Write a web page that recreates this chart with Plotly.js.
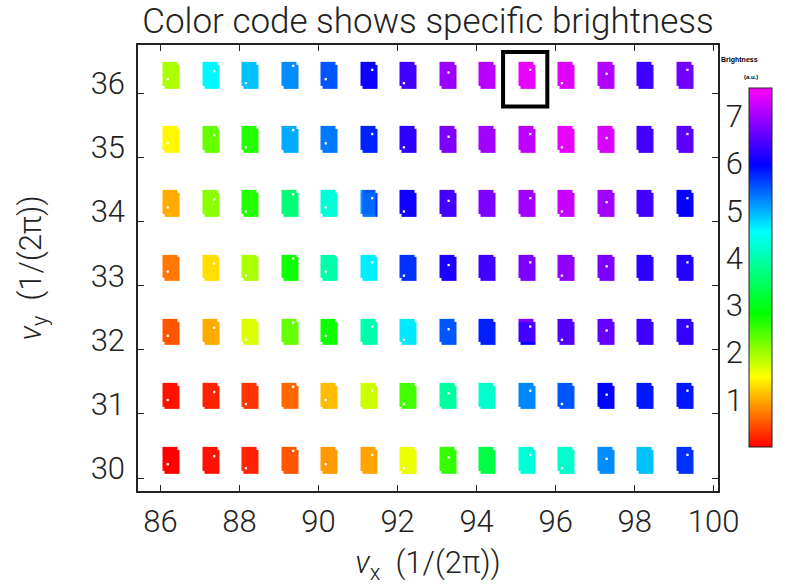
<!DOCTYPE html>
<html>
<head>
<meta charset="utf-8">
<script src="https://cdn.plot.ly/plotly-3.0.1.min.js"></script>
<style>html,body{margin:0;padding:0;background:#fff;}#chart{width:793px;height:585px;}</style>
</head>
<body>
<div id="chart"></div>
<script>
// ---- data ----
const xTunes = [86.27, 87.27, 88.27, 89.27, 90.27, 91.27, 92.27, 93.27, 94.27, 95.27, 96.27, 97.27, 98.27, 99.27];
const yTunes = [30.28, 31.28, 32.28, 33.28, 34.28, 35.28, 36.28];
// brightness per patch, rows from nu_y = 30 (bottom) to 36 (top)
const b30 = [0.0, 0.1, 0.2, 0.5, 0.9, 0.95, 1.58, 2.55, 3.28, 4.3, 4.2, 5.2, 4.9, 5.7];
const b31 = [0.1, 0.2, 0.3, 0.6, 1.1, 1.76, 2.47, 3.9, 4.2, 5.22, 5.5, 5.95, 5.85, 5.85];
const b32 = [0.5, 1.0, 1.67, 2.3, 2.75, 4.0, 4.68, 5.5, 5.8, 6.5, 6.5, 6.6, 6.35, 6.3];
const b33 = [0.7, 1.3, 1.93, 2.75, 3.98, 4.65, 5.7, 6.15, 6.4, 6.77, 6.9, 6.77, 6.25, 6.2];
const b34 = [1.0, 2.1, 2.65, 3.63, 4.3, 5.5, 6.05, 6.4, 6.77, 7.0, 7.25, 7.0, 6.4, 6.0];
const b35 = [1.45, 2.29, 2.65, 5.03, 5.3, 5.78, 6.25, 6.77, 7.0, 7.2, 7.45, 7.35, 6.4, 6.55];
const b36 = [1.93, 4.6, 4.9, 5.2, 5.5, 6.05, 6.4, 6.95, 7.15, 7.45, 7.4, 7.1, 6.35, 6.7];
const brightnessRows = [b30, b31, b32, b33, b34, b35, b36];
// patches with visible internal variation: sub-cell values (bottom row first, left to right)
const patchDetail = [
  {row: 2, col: 9, cells: [[null, 6.0, 6.1], [6.3, 6.4, 6.5], [6.8, 6.8, null]]},
  {row: 4, col: 5, cells: [[null, 5.3, 5.7], [5.1, 5.4, 5.7], [5.0, 5.5, null]]}
];
// white pixel markers inside each patch (fraction of patch width from left / height from top), per column
const dotFracX = [0.3, 0.7, 0.25, 0.7, 0.3, 0.7, 0.25, 0.55, null, 0.7, 0.25, 0.55, null, 0.65];
const dotFracY = [0.65, 0.35, 0.8, 0.15, 0.65, 0.3, 0.8, 0.4, null, 0.3, 0.8, 0.45, null, 0.3];
const xTickVals = [86, 88, 90, 92, 94, 96, 98, 100];
const yTickVals = [30, 31, 32, 33, 34, 35, 36];
const cbTickVals = [1, 2, 3, 4, 5, 6, 7];
const highlight = {col: 9, row: 6};

// ---- geometry of a patch (data units) ----
const PW = 0.44, PH = 0.415, NX = 0.06, NY = 0.045;

// build brick edges: each patch split in 3x3 sub-cells (corner notches), gaps in between
const xEdges = [];
xTunes.forEach(c => { xEdges.push(c - PW/2, c - PW/2 + NX, c + PW/2 - NX, c + PW/2); });
const yEdges = [];
yTunes.forEach(c => { yEdges.push(c - PH/2, c - PH/2 + NY, c + PH/2 - NY, c + PH/2); });
const nxc = xEdges.length - 1, nyc = yEdges.length - 1;
const z = [];
for (let r = 0; r < nyc; r++) {
  const row = [];
  const pr = Math.floor(r / 4), sr = r % 4;
  for (let c = 0; c < nxc; c++) {
    const pc = Math.floor(c / 4), sc = c % 4;
    let v = null;
    if (sr < 3 && sc < 3) {
      v = brightnessRows[pr][pc];
      const d = patchDetail.find(p => p.row === pr && p.col === pc);
      if (d) v = d.cells[sr][sc];
      if (sr === 0 && sc === 0) v = null;   // bottom-left notch
      if (sr === 2 && sc === 2) v = null;   // top-right notch
    }
    row.push(v);
  }
  z.push(row);
}

const dotX = [], dotY = [];
yTunes.forEach(cy => {
  xTunes.forEach((cx, i) => {
    if (dotFracX[i] !== null) {
      dotX.push(cx - PW/2 + dotFracX[i] * PW);
      dotY.push(cy + PH/2 - dotFracY[i] * PH);
    }
  });
});

const ZMAX = 7.6;
const colorscale = [
  [0, '#ff0000'], [1.49/ZMAX, '#ffff00'], [2.82/ZMAX, '#00ff00'],
  [4.56/ZMAX, '#00ffff'], [5.97/ZMAX, '#0000ff'], [1, '#ff00ff']
];

const FONT = 'Roboto, "Liberation Sans", sans-serif';
const INK = '#222';

// pixel layout helpers
const ML = 138, MR = 15, PAPER_W = 793 - ML - MR;   // paper area width
const PLOT_R = 718, PLOT_T = 45, PLOT_B = 491;
const CB_L = 749, CB_T = 88, CB_B = 447;
const px2x = p => (p - ML) / PAPER_W;
const px2y = p => (PLOT_B - p) / (PLOT_B - PLOT_T);

const traces = [
  {
    type: 'heatmap', x: xEdges, y: yEdges, z: z,
    zmin: 0, zmax: ZMAX, colorscale: colorscale, hoverongaps: false,
    colorbar: {
      x: px2x(CB_L), xanchor: 'left', xpad: 0,
      y: px2y((CB_T + CB_B) / 2), yanchor: 'middle', ypad: 0,
      len: CB_B - CB_T, lenmode: 'pixels', thickness: 23,
      outlinewidth: 1, outlinecolor: INK,
      ticks: '', showticklabels: false
    }
  },
  {
    type: 'scatter', mode: 'markers', x: dotX, y: dotY,
    marker: {symbol: 'square', size: 2.3, color: '#ffffff', line: {width: 0}},
    hoverinfo: 'skip', showlegend: false
  },
  { type: 'scatter', x: [], y: [], xaxis: 'x', yaxis: 'y2', showlegend: false, hoverinfo: 'skip' }
];

const hx = xTunes[highlight.col], hy = yTunes[highlight.row];

const layout = {
  width: 793, height: 585,
  margin: {l: ML, r: MR, t: PLOT_T, b: 585 - PLOT_B},
  paper_bgcolor: '#ffffff', plot_bgcolor: 'rgba(0,0,0,0)',
  font: {family: FONT, color: INK, weight: 300},
  showlegend: false,
  title: {
    text: 'Color code shows specific brightness',
    font: {family: FONT, size: 35, color: INK, weight: 300},
    x: (428 - ML) / PAPER_W, xref: 'paper', xanchor: 'center',
    y: 1 - 21 / 585, yref: 'container', yanchor: 'middle'
  },
  xaxis: {
    domain: [0, px2x(PLOT_R)],
    range: [85.43, 100.11], tickvals: xTickVals, ticks: 'inside', ticklen: 6, tickwidth: 1.2,
    tickcolor: INK, showline: true, linecolor: INK, linewidth: 1.5, mirror: 'ticks',
    showgrid: false, zeroline: false, ticklabelstandoff: 2,
    tickfont: {family: FONT, size: 31, color: INK, weight: 300},
    title: {text: '<i>ν</i><sub>x</sub>  (1/(2π))', font: {family: FONT, size: 31, color: INK, weight: 300}, standoff: 14}
  },
  yaxis: {
    range: [29.80, 36.75], tickvals: yTickVals, ticks: 'inside', ticklen: 6, tickwidth: 1.2,
    tickcolor: INK, showline: true, linecolor: INK, linewidth: 1.5, mirror: 'ticks',
    showgrid: false, zeroline: false, ticklabelstandoff: 5, ticklabelshift: -10,
    tickfont: {family: FONT, size: 31, color: INK, weight: 300},
    title: {text: '<i>ν</i><sub>y</sub>  (1/(2π))', font: {family: FONT, size: 31, color: INK, weight: 300}, standoff: 40}
  },
  yaxis2: {
    domain: [px2y(CB_B), px2y(CB_T)], anchor: 'free', position: px2x(CB_L),
    side: 'left', range: [0, ZMAX], tickvals: cbTickVals, ticks: 'inside', ticklen: 4, tickcolor: INK,
    showline: false, showgrid: false, zeroline: false, ticklabelstandoff: 6,
    tickfont: {family: FONT, size: 31, color: INK, weight: 300}
  },
  shapes: [{
    type: 'rect', xref: 'x', yref: 'y',
    x0: hx - 0.6, x1: hx + 0.52, y0: hy - 0.49, y1: hy + 0.36,
    line: {color: '#000', width: 4}
  }],
  annotations: [
    {text: '<b>Brightness</b>', xref: 'paper', yref: 'paper', x: px2x(760), y: px2y(54),
     showarrow: false, font: {family: '"Liberation Sans", Arial, sans-serif', size: 7, color: '#000'}},
    {text: '<b>(a.u.)</b>', xref: 'paper', yref: 'paper', x: px2x(760), y: px2y(72),
     showarrow: false, font: {family: '"Liberation Sans", Arial, sans-serif', size: 6, color: '#000'}}
  ]
};

Plotly.newPlot('chart', traces, layout, {displayModeBar: false, responsive: false});
</script>
</body>
</html>
